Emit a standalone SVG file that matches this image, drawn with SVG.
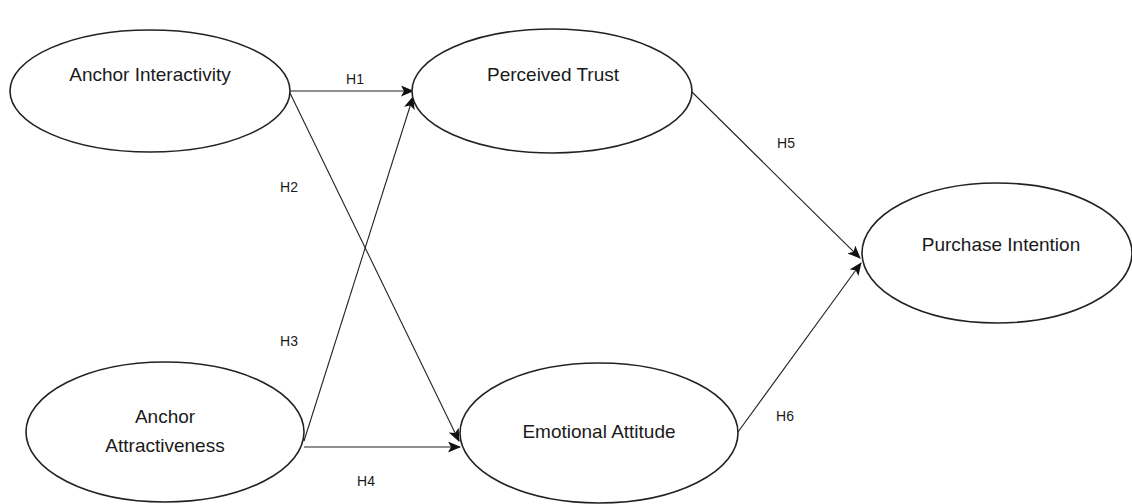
<svg xmlns="http://www.w3.org/2000/svg" width="1132" height="504" viewBox="0 0 1132 504">
<style>
.node ellipse{fill:#fff;stroke:#222;stroke-width:1.6}
.lbl{font-family:"Liberation Sans",Arial,sans-serif;font-size:19px;fill:#1a1a1a;text-anchor:middle}
.h{font-family:"Liberation Sans",Arial,sans-serif;font-size:14px;fill:#1a1a1a;text-anchor:middle}
.edge{stroke:#222;stroke-width:1.1;fill:none;marker-end:url(#arr)}
</style>
<defs>
<marker id="arr" markerWidth="13" markerHeight="11" refX="12" refY="5.5" orient="auto" markerUnits="userSpaceOnUse">
<path d="M0,0 L13,5.5 L0,11 L3,5.5 Z" fill="#111"/>
</marker>
</defs>
<rect width="1132" height="504" fill="#fff"/>
<g id="connectors">
<line class="edge" x1="290" y1="91" x2="413" y2="91"/>
<line class="edge" x1="290" y1="93" x2="459" y2="441"/>
<line class="edge" x1="304" y1="441" x2="413" y2="97"/>
<line class="edge" x1="304" y1="447" x2="460" y2="447"/>
<line class="edge" x1="692" y1="92" x2="860" y2="258"/>
<line class="edge" x1="738" y1="432" x2="861" y2="263"/>
</g>
<g id="labels">
<text class="h" x="355" y="84">H1</text>
<text class="h" x="289" y="192">H2</text>
<text class="h" x="289" y="346">H3</text>
<text class="h" x="366" y="486">H4</text>
<text class="h" x="786" y="148">H5</text>
<text class="h" x="785" y="421">H6</text>
</g>
<g id="anchor-interactivity" class="node">
<ellipse cx="150" cy="91" rx="140" ry="61"/>
<text class="lbl" x="150" y="81">Anchor Interactivity</text>
</g>
<g id="perceived-trust" class="node">
<ellipse cx="552" cy="91" rx="140" ry="62"/>
<text class="lbl" x="553" y="81">Perceived Trust</text>
</g>
<g id="purchase-intention" class="node">
<ellipse cx="997" cy="253" rx="135" ry="70"/>
<text class="lbl" x="1001" y="251">Purchase Intention</text>
</g>
<g id="anchor-attractiveness" class="node">
<ellipse cx="165" cy="432" rx="139" ry="70"/>
<text class="lbl" x="165" y="423">Anchor</text>
<text class="lbl" x="165" y="452">Attractiveness</text>
</g>
<g id="emotional-attitude" class="node">
<ellipse cx="599" cy="433" rx="139" ry="70"/>
<text class="lbl" x="599" y="438">Emotional Attitude</text>
</g>
</svg>
